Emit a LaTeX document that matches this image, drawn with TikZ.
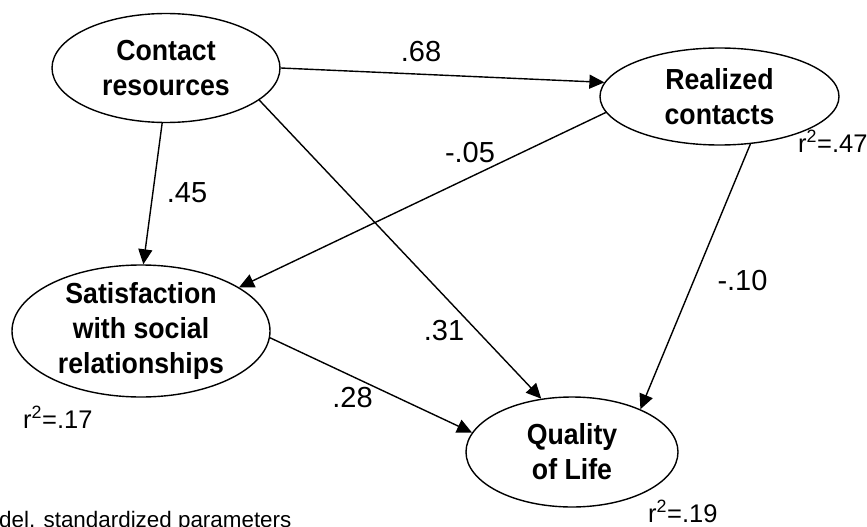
\documentclass[tikz,border=0pt]{standalone}
\usepackage{fontspec}
\setmainfont{Liberation Sans}
\newfontfamily\nodefont{Liberation Sans}[FakeStretch=0.92]
\usetikzlibrary{arrows.meta,shapes.geometric}

\tikzset{
  latent/.style={draw, ellipse, line width=1.4pt, inner sep=0pt},
  nodetext/.style={font=\nodefont\bfseries\fontsize{29}{35}\selectfont, align=center},
  coef/.style={font=\fontsize{29}{35}\selectfont, inner sep=0pt},
  rsq/.style={font=\fontsize{25.5}{30}\selectfont, inner sep=0pt, anchor=base west},
  effect/.style={draw, line width=1.4pt, -{Triangle[length=15pt,width=14pt]}},
}

\begin{document}
\begin{tikzpicture}[x=1pt,y=-1pt]
  \useasboundingbox (0,0) rectangle (867,527);

  % latent variables
  \node[latent, minimum width=228pt, minimum height=109pt,
        label={[nodetext]center:Contact\\resources}] (cr) at (166,68) {};
  \node[latent, minimum width=239pt, minimum height=97pt,
        label={[nodetext]center:Realized\\contacts}] (rc) at (719.5,96.5) {};
  \node[latent, minimum width=258pt, minimum height=132pt,
        label={[nodetext]center:Satisfaction\\with social\\relationships}] (sat) at (141,331) {};
  \node[latent, minimum width=212pt, minimum height=110pt,
        label={[nodetext]center:Quality\\of Life}] (qol) at (572,452) {};

  % structural paths
  \draw[effect] (cr.east) -- (rc.173);
  \draw[effect] (cr.266)  -- (sat.88);
  \draw[effect] (cr.341)  -- (qol.120);
  \draw[effect] (rc.188)  -- (sat.24);
  \draw[effect] (rc.303)  -- (qol.32);
  \draw[effect] (sat.357) -- (qol.169);

  % standardized coefficients
  \node[coef] (c68) at (421,52)    {.68};
  \node[coef] (c45) at (187,192.5) {.45};
  \node[coef] (c05) at (470,153)   {-.05};
  \node[coef] (c10) at (742.5,281) {-.10};
  \node[coef] (c31) at (444,331)   {.31};
  \node[coef] (c28) at (352.5,397.5) {.28};

  % explained variance
  \node[rsq] (r17) at (23,428)  {r\textsuperscript{2}=.17};
  \node[rsq] (r47) at (798,152) {r\textsuperscript{2}=.47};
  \node[rsq] (r19) at (648,522) {r\textsuperscript{2}=.19};

  % caption
  \node[font=\fontsize{22.4}{26}\selectfont, inner sep=0pt, anchor=base west] (cap) at (-1,527)
    {del. standardized parameters};
\end{tikzpicture}
\end{document}
